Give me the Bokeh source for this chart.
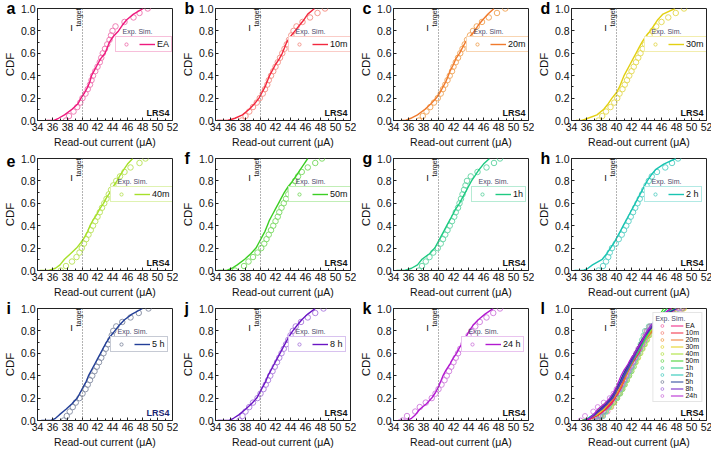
from math import pi
from bokeh.plotting import figure
from bokeh.layouts import gridplot
from bokeh.models import (Span, Label, Legend, LegendItem, FixedTicker,
                          NumeralTickFormatter, Range1d, Title)
from bokeh.embed import file_html
from bokeh.resources import INLINE

FONT = "Liberation Sans"

# ---------------- data ----------------
x_ticks = [34, 36, 38, 40, 42, 44, 46, 48, 50, 52]
x_minor = [35, 37, 39, 41, 43, 45, 47, 49, 51]
y_ticks = [0.0, 0.2, 0.4, 0.6, 0.8, 1.0]
y_minor = [0.1, 0.3, 0.5, 0.7, 0.9]
i_target = 40.0

panel_letters = ["a", "b", "c", "d", "e", "f", "g", "h", "i", "j", "k", "l"]
series_labels = ["EA", "10m", "20m", "30m", "40m", "50m", "1h", "2 h", "5 h", "8 h", "24 h"]
legend_l_labels = ["EA", "10m", "20m", "30m", "40m", "50m", "1h", "2h", "5h", "8h", "24h"]

sim_colors = ["#ee1a7e", "#f2283f", "#f07a2c", "#e3d012", "#a6e02a", "#3ccf24",
              "#1fca82", "#19c4b2", "#233f98", "#6a16c4", "#b21ad0"]
exp_colors = ["#f07fb6", "#f5998f", "#f2ac66", "#e6dc5e", "#bfe566", "#84dd6e",
              "#6ed8aa", "#66d4ca", "#8e96aa", "#b286e0", "#d488e0"]

# CDF levels (simulation curves and experimental points)
sim_cdf = [0.0, 0.0, 0.02, 0.05, 0.10, 0.15, 0.20, 0.25, 0.30, 0.35, 0.40, 0.45,
           0.50, 0.55, 0.60, 0.65, 0.70, 0.75, 0.80, 0.85, 0.90, 0.95, 1.0]
exp_cdf = [0.00, 0.04, 0.08, 0.12, 0.16, 0.20, 0.24, 0.28, 0.32, 0.36, 0.40, 0.44, 0.48,
           0.52, 0.56, 0.60, 0.64, 0.68, 0.72, 0.76, 0.80, 0.84, 0.88, 0.92, 0.96, 1.00]

# read-out current (uA) of simulation
sim_EA = [35.2, 36.2, 36.8, 37.6, 38.6, 39.4, 39.8, 40.3, 40.7, 41.0, 41.2, 41.6, 42.0, 42.4, 43.0, 43.3, 43.6, 44.1, 44.8, 45.3, 45.9, 46.8, 48.1]
sim_10m = [34.2, 35.6, 36.6, 37.6, 38.5, 39.2, 39.8, 40.2, 40.6, 40.9, 41.2, 41.6, 42.0, 42.5, 42.9, 43.2, 43.5, 44.0, 44.6, 45.2, 45.8, 46.3, 47.2]
sim_20m = [35.0, 35.6, 36.3, 37.2, 38.2, 39.0, 39.7, 40.2, 40.6, 41.0, 41.3, 41.6, 42.0, 42.3, 42.8, 43.2, 43.6, 44.2, 44.8, 45.3, 45.9, 46.6, 47.4]
sim_30m = [34.6, 35.4, 36.2, 37.4, 38.3, 38.9, 39.4, 40.0, 40.4, 40.7, 41.0, 41.4, 41.8, 42.2, 42.6, 43.0, 43.4, 43.9, 44.5, 45.0, 45.5, 46.2, 47.8]
sim_40m = [34.3, 35.5, 36.4, 37.0, 37.6, 38.4, 39.2, 39.8, 40.3, 40.7, 41.0, 41.4, 41.9, 42.3, 42.8, 43.2, 43.7, 44.1, 44.6, 45.0, 45.5, 46.0, 46.7]
sim_50m = [34.3, 35.5, 36.2, 36.9, 37.9, 38.7, 39.4, 39.8, 40.2, 40.6, 40.9, 41.2, 41.6, 42.0, 42.4, 42.8, 43.2, 43.7, 44.3, 44.8, 45.3, 45.8, 46.3]
sim_1h = [34.4, 35.5, 36.4, 37.2, 37.8, 38.8, 39.5, 39.9, 40.3, 40.7, 41.1, 41.5, 41.9, 42.3, 42.8, 43.2, 43.6, 44.0, 44.4, 44.9, 45.4, 46.0, 46.8]
sim_2h = [34.4, 35.6, 36.2, 36.8, 38.1, 38.7, 39.2, 39.7, 40.1, 40.5, 40.9, 41.3, 41.7, 42.1, 42.5, 42.9, 43.3, 43.7, 44.1, 44.6, 45.2, 46.3, 47.9]
sim_5h = [34.5, 35.8, 36.4, 36.9, 37.8, 38.6, 39.3, 39.7, 40.1, 40.5, 40.8, 41.2, 41.6, 42.0, 42.4, 42.8, 43.2, 43.7, 44.3, 44.9, 45.6, 46.6, 48.0]
sim_8h = [34.3, 35.8, 36.4, 37.1, 38.0, 38.8, 39.5, 39.9, 40.3, 40.7, 41.0, 41.4, 41.8, 42.2, 42.6, 43.0, 43.4, 43.8, 44.3, 44.9, 45.5, 46.3, 47.3]
sim_24h = [34.6, 35.8, 36.4, 36.9, 37.5, 38.4, 39.1, 39.6, 40.0, 40.3, 40.6, 41.0, 41.5, 41.9, 42.4, 42.8, 43.3, 43.7, 44.1, 44.6, 45.3, 46.2, 47.3]

# read-out current (uA) of experiment
exp_EA = [37.8, 38.2, 38.8, 39.3, 39.7, 40.0, 40.4, 40.7, 41.0, 41.2, 41.4, 41.7, 42.0, 42.3, 42.5, 42.7, 43.0, 43.3, 43.6, 43.8, 44.0, 44.4, 45.6, 46.8, 47.6, 48.7]
exp_10m = [37.5, 38.0, 38.5, 39.0, 39.5, 39.9, 40.3, 40.6, 40.9, 41.1, 41.4, 41.7, 42.0, 42.3, 42.6, 42.9, 43.2, 43.5, 43.8, 44.1, 44.4, 44.8, 45.6, 46.6, 47.6, 48.6]
exp_20m = [37.4, 37.9, 38.4, 38.9, 39.4, 39.9, 40.3, 40.6, 40.9, 41.2, 41.5, 41.8, 42.0, 42.3, 42.6, 42.9, 43.2, 43.5, 43.8, 44.2, 44.6, 45.1, 45.8, 46.7, 47.8, 48.9]
exp_30m = [37.6, 38.1, 38.6, 39.2, 39.7, 40.1, 40.4, 40.8, 41.1, 41.4, 41.7, 42.0, 42.3, 42.6, 42.9, 43.2, 43.5, 43.8, 44.1, 44.4, 44.8, 45.3, 46.0, 46.9, 47.9, 49.0]
exp_40m = [37.1, 37.8, 38.6, 39.2, 39.6, 39.9, 40.2, 40.5, 40.8, 41.1, 41.4, 41.7, 42.0, 42.3, 42.6, 42.9, 43.2, 43.5, 43.8, 44.1, 44.5, 45.0, 45.6, 46.4, 47.6, 48.4]
exp_50m = [36.6, 37.8, 38.4, 39.0, 39.6, 40.1, 40.5, 40.8, 41.1, 41.4, 41.7, 42.0, 42.3, 42.5, 42.8, 43.1, 43.4, 43.7, 44.0, 44.3, 44.6, 45.0, 45.5, 46.3, 47.3, 48.2]
exp_1h = [37.4, 37.8, 38.3, 38.8, 39.3, 39.9, 40.3, 40.6, 40.9, 41.2, 41.5, 41.8, 42.1, 42.3, 42.6, 42.8, 43.0, 43.2, 43.4, 43.6, 43.8, 44.3, 45.2, 46.4, 47.4, 48.2]
exp_2h = [37.6, 38.2, 38.6, 38.9, 39.1, 39.4, 39.9, 40.3, 40.7, 41.0, 41.3, 41.6, 41.9, 42.2, 42.5, 42.8, 43.1, 43.4, 43.7, 44.0, 44.3, 44.7, 45.4, 46.5, 47.4, 48.2]
exp_5h = [37.5, 37.9, 38.3, 38.7, 39.1, 39.6, 40.0, 40.4, 40.7, 41.0, 41.3, 41.6, 41.9, 42.2, 42.5, 42.8, 43.1, 43.4, 43.7, 43.9, 44.1, 44.5, 45.3, 46.4, 47.5, 48.8]
exp_8h = [37.2, 37.6, 38.0, 38.5, 39.0, 39.6, 40.0, 40.4, 40.7, 41.0, 41.3, 41.6, 41.9, 42.2, 42.5, 42.8, 43.1, 43.4, 43.7, 44.0, 44.3, 44.7, 45.4, 46.3, 47.3, 48.4]
exp_24h = [35.2, 35.8, 36.9, 37.5, 38.3, 39.1, 39.6, 40.0, 40.4, 40.8, 41.1, 41.4, 41.7, 42.0, 42.3, 42.6, 42.9, 43.3, 43.7, 44.0, 44.4, 44.9, 45.5, 46.4, 47.3, 48.2]

sim_all = [sim_EA, sim_10m, sim_20m, sim_30m, sim_40m, sim_50m, sim_1h, sim_2h, sim_5h, sim_8h, sim_24h]
exp_all = [exp_EA, exp_10m, exp_20m, exp_30m, exp_40m, exp_50m, exp_1h, exp_2h, exp_5h, exp_8h, exp_24h]

# ---------------- layout constants ----------------
FRAME_W, FRAME_H = 135, 112
BORDER_L, BORDER_R, BORDER_T, BORDER_B = 32, 6, 8, 29


def xdata(px):
    return 34 + px / FRAME_W * 18


def make_fig(letter):
    p = figure(frame_width=FRAME_W, frame_height=FRAME_H,
               x_range=Range1d(34, 52), y_range=Range1d(0, 1.0),
               output_backend="svg", toolbar_location=None,
               min_border_left=BORDER_L, min_border_right=BORDER_R,
               min_border_top=BORDER_T, min_border_bottom=BORDER_B)
    p.grid.visible = False
    p.outline_line_color = "#222222"
    p.outline_line_width = 1
    p.background_fill_color = "white"
    p.border_fill_color = "white"
    p.xaxis.ticker = FixedTicker(ticks=x_ticks, minor_ticks=x_minor)
    p.yaxis.ticker = FixedTicker(ticks=y_ticks, minor_ticks=y_minor)
    p.yaxis.formatter = NumeralTickFormatter(format="0.0")
    p.xaxis.axis_label = "Read-out current (μA)"
    p.yaxis.axis_label = "CDF"
    for ax in (p.xaxis[0], p.yaxis[0]):
        ax.major_tick_in = 3
        ax.major_tick_out = 0
        ax.minor_tick_in = 2
        ax.minor_tick_out = 0
        ax.axis_line_color = "#222222"
        ax.major_tick_line_color = "#222222"
        ax.minor_tick_line_color = "#222222"
        ax.major_label_text_font = FONT
        ax.major_label_text_font_size = "10.5px"
        ax.major_label_text_color = "#111111"
        ax.major_label_standoff = 2
        ax.axis_label_text_font = FONT
        ax.axis_label_text_font_style = "normal"
        ax.axis_label_text_color = "#111111"
        ax.axis_label_standoff = 2
    p.xaxis.axis_label_text_font_size = "10.5px"
    p.yaxis.axis_label_text_font_size = "11.5px"
    # panel letter as a title pushed into the left margin
    t = Title(text=letter, align="left", offset=-(BORDER_L - 1), standoff=-17,
              text_font=FONT, text_font_size="16px", text_font_style="bold",
              text_color="black", vertical_align="bottom")
    p.add_layout(t, "above")
    # I_target line and label
    p.add_layout(Span(location=i_target, dimension="height", line_color="#666666",
                      line_dash="1 2", line_width=1))
    p.add_layout(Label(x=38.55, y=0.78, text="I", text_font=FONT,
                       text_font_size="9.5px", text_align="center", text_baseline="bottom",
                       text_color="#111111"))
    p.add_layout(Label(x=39.45, y=0.84, text="target", angle=pi / 2, text_font=FONT,
                       text_font_size="7px", text_align="left", text_baseline="middle",
                       text_color="#111111"))
    return p


def add_lrs(p, color="#111111"):
    p.add_layout(Label(x=51.6, y=0.025, text="LRS4", text_font=FONT, text_font_size="9px",
                       text_font_style="bold", text_align="right", text_baseline="bottom",
                       text_color=color))


figs = []
for k in range(11):
    p = make_fig(panel_letters[k])
    add_lrs(p, "#1a2470" if k == 8 else "#111111")
    r_exp = p.scatter(exp_all[k], exp_cdf, marker="circle", size=5.5, fill_color=None,
                      line_color=exp_colors[k], line_width=1)
    r_sim = p.line(sim_all[k], sim_cdf, line_color=sim_colors[k], line_width=1.4)
    lab = series_labels[k]
    leg_w = 44 + 5 * len(lab)
    leg_x = FRAME_W - 3 - leg_w
    leg_y = int(FRAME_H * 0.61)
    p.add_layout(Label(x=xdata(leg_x + 7), y=(leg_y + 18) / FRAME_H, text="Exp. Sim.",
                       text_font=FONT, text_font_size="7px",
                       text_color="#4a4a6a", text_align="left", text_baseline="bottom"))
    leg = Legend(items=[LegendItem(label="", renderers=[r_exp]),
                        LegendItem(label=lab, renderers=[r_sim])],
                 orientation="horizontal", location=(leg_x, leg_y),
                 label_text_font=FONT, label_text_font_size="9px", label_text_color="#111111",
                 glyph_width=16, glyph_height=8, label_height=8, label_width=0,
                 label_standoff=2, spacing=3, padding=2, margin=0,
                 border_line_color=exp_colors[k], border_line_width=1,
                 background_fill_color="white", background_fill_alpha=1)
    p.add_layout(leg)
    figs.append(p)

# panel l: everything together
p = make_fig("l")
exp_items, sim_items = [], []
for k in range(11):
    r_exp = p.scatter(exp_all[k], exp_cdf, marker="circle", size=5, fill_color=None,
                      line_color=exp_colors[k], line_width=0.9)
    exp_items.append(LegendItem(label="", renderers=[r_exp]))
for k in range(11):
    r_sim = p.line(sim_all[k], sim_cdf, line_color=sim_colors[k], line_width=1.2)
    sim_items.append(LegendItem(label=legend_l_labels[k], renderers=[r_sim]))
leg = Legend(items=exp_items + sim_items, orientation="vertical", nrows=11,
             location="top_right", margin=4,
             title="Exp. Sim.", title_text_font=FONT, title_text_font_size="7px",
             title_text_color="#4a4a6a", title_text_font_style="normal", title_standoff=0,
             label_text_font=FONT, label_text_font_size="7px", label_text_color="#111111",
             glyph_width=13, glyph_height=7, label_height=7, label_width=0,
             label_standoff=2, spacing=0, padding=2,
             border_line_color="#cccccc", border_line_width=1,
             background_fill_color="white", background_fill_alpha=1)
p.add_layout(leg)
add_lrs(p)
figs.append(p)

grid = gridplot(figs, ncols=4, toolbar_location=None)

open("out.html", "w").write(file_html(grid, INLINE))
